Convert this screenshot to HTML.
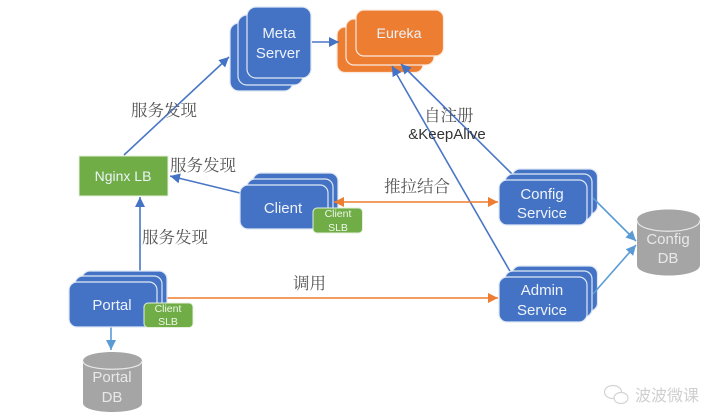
<!DOCTYPE html>
<html><head><meta charset="utf-8"><style>
html,body{margin:0;padding:0;background:#fff;width:723px;height:419px;overflow:hidden}
svg{display:block;filter:blur(.35px)}
text{font-family:"Liberation Sans",sans-serif}
.w{fill:#eef3fa;font-size:15px;text-anchor:middle}
.z{fill:#555;font-size:16.500px;font-family:"Liberation Serif","Noto Serif CJK SC",serif}
.b{fill:#4472c4;stroke:#dfe8f5;stroke-width:1.2}
.o{fill:#ed7d31;stroke:#fbeadf;stroke-width:1.2}
.g{fill:#70ad47;stroke:#e4f0dc;stroke-width:1}
.s{fill:#eef6e8;font-size:10.500px;text-anchor:middle}
.l{stroke:#4a76c6;stroke-width:1.600;fill:none}
.lb{stroke:#5b9bd5;stroke-width:1.600;fill:none}
.lo{stroke:#ed7d31;stroke-width:1.600;fill:none}
</style></head><body>
<svg width="723" height="419" viewBox="0 0 723 419" xmlns="http://www.w3.org/2000/svg">
<defs>
<marker id="ab" markerUnits="userSpaceOnUse" markerWidth="12" markerHeight="12" refX="10" refY="6" orient="auto-start-reverse"><path d="M0 1L10 6L0 11z" fill="#4472c4"/></marker>
<marker id="al" markerUnits="userSpaceOnUse" markerWidth="12" markerHeight="12" refX="10" refY="6" orient="auto-start-reverse"><path d="M0 1L10 6L0 11z" fill="#5b9bd5"/></marker>
<marker id="ao" markerUnits="userSpaceOnUse" markerWidth="12" markerHeight="12" refX="10" refY="6" orient="auto-start-reverse"><path d="M0 1L10 6L0 11z" fill="#ed7d31"/></marker>
</defs>

<!-- Eureka -->
<rect class="o" x="337" y="27" width="86" height="45.500" rx="8"/>
<rect class="o" x="346" y="19" width="88" height="46" rx="8"/>
<rect class="o" x="356" y="10" width="87.500" height="46" rx="8"/>
<text class="w" x="399" y="38" style="font-size:14.200px">Eureka</text>

<!-- connectors behind other nodes -->
<line class="l" x1="124" y1="155" x2="229" y2="57" marker-end="url(#ab)"/>
<line class="l" x1="312" y1="42" x2="339" y2="42" marker-end="url(#ab)"/>
<line class="l" x1="240" y1="193" x2="170" y2="176" marker-end="url(#ab)"/>
<line class="l" x1="140" y1="271" x2="140" y2="197" marker-end="url(#ab)"/>
<line class="l" x1="512" y1="174" x2="401" y2="64" marker-end="url(#ab)"/>
<line class="l" x1="511" y1="273" x2="392" y2="66" marker-end="url(#ab)"/>
<line class="lb" x1="111" y1="327" x2="111" y2="350" marker-end="url(#al)"/>
<line class="lo" x1="165" y1="298" x2="498" y2="298" marker-end="url(#ao)"/>

<!-- Meta Server -->
<rect class="b" x="230" y="23" width="63" height="68" rx="9"/>
<rect class="b" x="238" y="15" width="65" height="70" rx="9"/>
<rect class="b" x="247" y="7" width="64" height="71" rx="9"/>
<text class="w" x="279" y="38">Meta</text>
<text class="w" x="278" y="58">Server</text>

<!-- Nginx -->
<rect class="g" x="79" y="156" width="89" height="40"/>
<text class="w" x="123" y="181" style="font-size:14px">Nginx LB</text>

<!-- Client -->
<rect class="b" x="253" y="173" width="85" height="44" rx="8"/>
<rect class="b" x="247" y="179" width="86" height="44" rx="8"/>
<rect class="b" x="240" y="185" width="88" height="44" rx="8"/>
<text class="w" x="283" y="213">Client</text>
<rect class="g" x="313" y="208" width="49.500" height="25" rx="4"/>
<text class="s" x="338" y="217">Client</text>
<text class="s" x="338" y="231">SLB</text>

<!-- Portal -->
<rect class="b" x="82" y="271" width="85" height="45" rx="8"/>
<rect class="b" x="75" y="276" width="87" height="46" rx="8"/>
<rect class="b" x="69" y="282" width="88" height="45" rx="8"/>
<text class="w" x="112" y="310">Portal</text>
<rect class="g" x="144" y="303" width="49" height="24.500" rx="4"/>
<text class="s" x="168" y="312">Client</text>
<text class="s" x="168" y="325">SLB</text>

<!-- Config Service -->
<rect class="b" x="512" y="169" width="85.500" height="45" rx="8"/>
<rect class="b" x="505" y="174" width="87" height="46" rx="8"/>
<rect class="b" x="499" y="180" width="88" height="45" rx="8"/>
<text class="w" x="542" y="199">Config</text>
<text class="w" x="542" y="218">Service</text>

<!-- Admin Service -->
<rect class="b" x="512" y="266" width="85.500" height="45" rx="8"/>
<rect class="b" x="505" y="271" width="87" height="46" rx="8"/>
<rect class="b" x="499" y="277" width="88" height="45" rx="8"/>
<text class="w" x="542" y="295">Admin</text>
<text class="w" x="542" y="315">Service</text>

<!-- connectors over nodes -->
<line class="lb" x1="593" y1="198" x2="636" y2="241" marker-end="url(#al)"/>
<line class="lb" x1="593" y1="294" x2="636" y2="245" marker-end="url(#al)"/>
<line class="lo" x1="334" y1="202" x2="498" y2="202" marker-start="url(#ao)" marker-end="url(#ao)"/>

<!-- Portal DB -->
<path d="M83 361C83 349 142 349 142 361V403C142 415 83 415 83 403Z" fill="#a5a5a5"/>
<path d="M83 361C83 372 142 372 142 361" fill="none" stroke="#e8e8e8" stroke-width="1.2"/>
<text class="w" x="112" y="382" style="fill:#e8e8e8">Portal</text>
<text class="w" x="112" y="402" style="fill:#e8e8e8">DB</text>

<!-- Config DB -->
<path d="M637 220C637 206 700 206 700 220V265C700 279 637 279 637 265Z" fill="#a5a5a5"/>
<path d="M637 220C637 235 700 235 700 220" fill="none" stroke="#e8e8e8" stroke-width="1.2"/>
<text class="w" x="668" y="244" style="fill:#e8e8e8">Config</text>
<text class="w" x="668" y="263" style="fill:#e8e8e8">DB</text>

<!-- Labels -->
<text class="z" x="131" y="116">服务发现</text>
<text class="z" x="170" y="171">服务发现</text>
<text class="z" x="142" y="243">服务发现</text>
<text class="z" x="384" y="192">推拉结合</text>
<text class="z" x="293" y="289">调用</text>
<text class="z" x="424" y="121">自注册</text>
<text x="447" y="139" text-anchor="middle" style="font-size:15px;fill:#333">&amp;KeepAlive</text>

<!-- Watermark -->
<g fill="none" stroke="#d4d4d4" stroke-width="1.200">
<ellipse cx="613" cy="392" rx="8.500" ry="6.500"/>
<ellipse cx="621" cy="398" rx="7" ry="5.500" fill="#fff"/>
</g>
<text x="635" y="401" style="font-size:16px;fill:#cfcfcf;font-family:'Noto Sans CJK SC',sans-serif">波波微课</text>
</svg>
</body></html>
